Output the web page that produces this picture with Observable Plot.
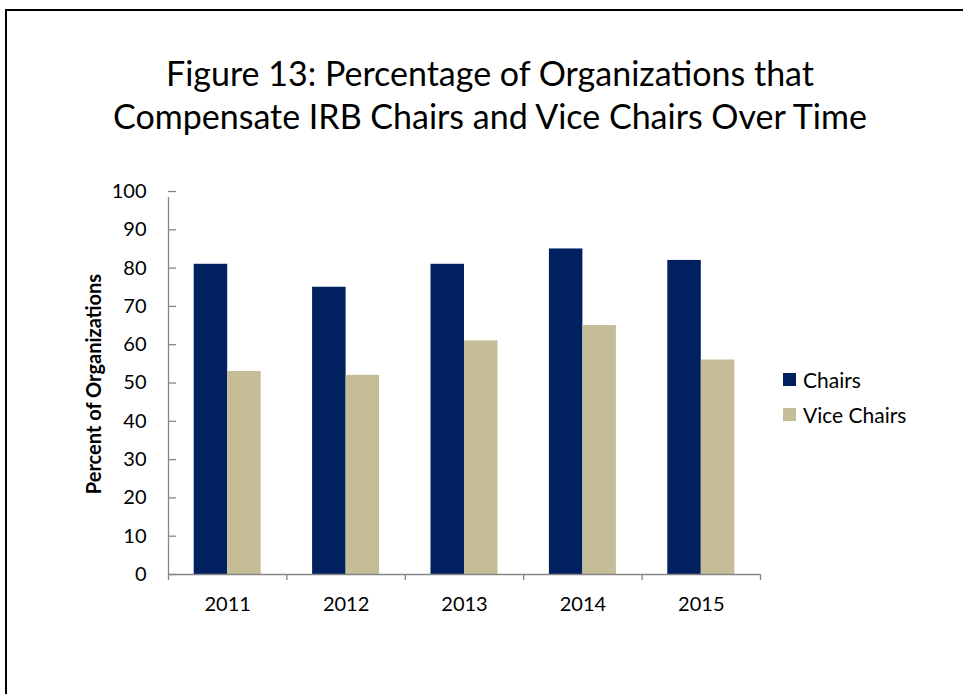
<!DOCTYPE html>
<html>
<head>
<meta charset="utf-8">
<script src="https://cdn.jsdelivr.net/npm/d3@7"></script>
<script src="https://cdn.jsdelivr.net/npm/@observablehq/plot@0.6"></script>
<style>
  html, body { margin: 0; padding: 0; background: #fff; overflow: hidden; }
  #page { position: relative; width: 963px; height: 694px; overflow: hidden; font-family: Lato, "Open Sans", sans-serif; color: #000; }
  #frame { position: absolute; left: 5px; top: 9px; width: 1100px; height: 1100px; border: 2px solid #000; box-sizing: border-box; }
  #title { position: absolute; left: 0; width: 980px; top: 51px; text-align: center; font-size: 34px; line-height: 43px; }
  #chart { position: absolute; left: 0; top: 170px; }
  #ylabel { position: absolute; left: 93px; top: 384px; transform: translate(-50%, -50%) rotate(-90deg); white-space: nowrap; font-weight: bold; font-size: 20px; }
  #legend { position: absolute; left: 783px; top: 362px; font-size: 21px; }
  .item { display: flex; align-items: center; height: 35px; }
  .sw { width: 13px; height: 13px; margin-right: 7px; }
</style>
</head>
<body>
<div id="page">
  <div id="frame"></div>
  <div id="title">Figure 13: Percentage of Organizations that<br>Compensate IRB Chairs and Vice Chairs Over Time</div>
  <div id="chart"></div>
  <div id="ylabel">Percent of Organizations</div>
  <div id="legend"></div>
</div>
<script>
const years = [2011, 2012, 2013, 2014, 2015];
const chairs = [81, 75, 81, 85, 82];
const viceChairs = [53, 52, 61, 65, 56];
const yTicks = [0, 10, 20, 30, 40, 50, 60, 70, 80, 90, 100];
const seriesNames = ["Chairs", "Vice Chairs"];
const seriesColors = ["#002060", "#C4BD97"];

const half = 0.283; // half of the group width, in category units
const data = years.flatMap((yr, i) => [
  {year: yr, series: seriesNames[0], value: chairs[i], x1: yr - half, x2: yr},
  {year: yr, series: seriesNames[1], value: viceChairs[i], x1: yr, x2: yr + half}
]);
const boundaries = [years[0] - 0.5, ...years.map(y => y + 0.5)];
const axisColor = "#868686";

const chart = Plot.plot({
  width: 963,
  height: 470,
  marginTop: 21,
  marginBottom: 66,
  marginLeft: 168,
  marginRight: 203,
  style: {fontFamily: "Lato, 'Open Sans', sans-serif", fontSize: "20px", color: "#000", background: "transparent"},
  x: {type: "linear", domain: [years[0] - 0.5, years[years.length - 1] + 0.5], axis: null},
  y: {domain: [0, 100], axis: null},
  color: {domain: seriesNames, range: seriesColors},
  marks: [
    Plot.rectY(data, {x1: "x1", x2: "x2", y1: 0, y2: "value", fill: "series"}),
    Plot.ruleY([0], {stroke: axisColor, strokeWidth: 1.3}),
    Plot.ruleX([boundaries[0]], {y1: 0, y2: 100, insetBottom: -6, stroke: axisColor, strokeWidth: 1.3}),
    Plot.ruleX(boundaries, {x: d => d, y1: 0, y2: 0, insetBottom: -6, stroke: axisColor, strokeWidth: 1.3}),
    Plot.ruleY(yTicks, {y: d => d, x1: boundaries[0], x2: boundaries[0], insetRight: -8, stroke: axisColor, strokeWidth: 1.3}),
    Plot.axisY(yTicks, {tickSize: 0, tickPadding: 22, fontSize: 20, label: null, tickFormat: d => String(d)}),
    Plot.axisX(years, {tickSize: 0, tickPadding: 22, fontSize: 20, label: null, tickFormat: d => String(d)})
  ]
});
document.getElementById("chart").appendChild(chart);

const legend = document.getElementById("legend");
seriesNames.forEach((name, i) => {
  const item = document.createElement("div");
  item.className = "item";
  const sw = document.createElement("div");
  sw.className = "sw";
  sw.style.background = seriesColors[i];
  const label = document.createElement("span");
  label.textContent = name;
  item.appendChild(sw);
  item.appendChild(label);
  legend.appendChild(item);
});
</script>
</body>
</html>
